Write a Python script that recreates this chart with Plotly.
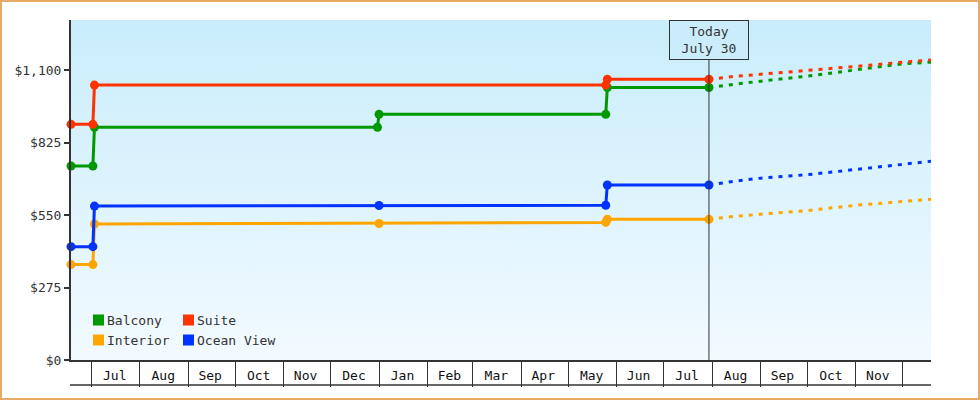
import base64
import plotly.graph_objects as go

# observed fares (solid part), one list pair per cabin type
balcony_dates = ["2023-06-18", "2023-07-02", "2023-07-03", "2023-12-31", "2024-01-01",
                 "2024-05-25", "2024-05-26", "2024-07-30"]
balcony_prices = [736, 736, 883, 883, 932, 932, 1034, 1034]

suite_dates = ["2023-06-18", "2023-07-02", "2023-07-03", "2024-05-25", "2024-05-26", "2024-07-30"]
suite_prices = [894, 894, 1043, 1043, 1065, 1065]

ocean_dates = ["2023-06-18", "2023-07-02", "2023-07-03", "2024-01-01", "2024-05-25",
               "2024-05-26", "2024-07-30"]
ocean_prices = [430, 430, 584, 586, 587, 664, 664]

interior_dates = ["2023-06-18", "2023-07-02", "2023-07-03", "2024-01-01", "2024-05-25",
                  "2024-05-26", "2024-07-30"]
interior_prices = [362, 362, 516, 518, 522, 534, 534]

# projected fares (dotted part)
forecast_dates = ["2024-07-30", "2024-08-15", "2024-09-01", "2024-10-01", "2024-11-01",
                  "2024-12-01", "2024-12-19"]
balcony_forecast = [1034, 1046, 1058, 1077, 1102, 1124, 1130]
suite_forecast = [1065, 1076, 1084, 1098, 1114, 1130, 1138]
ocean_forecast = [664, 678, 690, 703, 723, 743, 754]
interior_forecast = [534, 545, 553, 567, 587, 601, 610]

today = "2024-07-30"
today_label = "Today<br>July 30"

month_ticks = ["2023-07-16", "2023-08-16", "2023-09-15", "2023-10-16", "2023-11-15",
               "2023-12-16", "2024-01-16", "2024-02-15", "2024-03-16", "2024-04-15",
               "2024-05-16", "2024-06-15", "2024-07-16", "2024-08-16", "2024-09-15",
               "2024-10-16", "2024-11-15"]
month_labels = ["Jul", "Aug", "Sep", "Oct", "Nov", "Dec", "Jan", "Feb", "Mar", "Apr",
                "May", "Jun", "Jul", "Aug", "Sep", "Oct", "Nov"]

price_ticks = [0, 275, 550, 825, 1100]
price_labels = ["$0", "$275", "$550", "$825", "$1,100"]

FONT = "DejaVu Sans Mono"
INK = "#333333"

series = [
    ("Interior", "#ffa500", interior_dates, interior_prices, interior_forecast),
    ("Ocean View", "#0033ff", ocean_dates, ocean_prices, ocean_forecast),
    ("Balcony", "#009900", balcony_dates, balcony_prices, balcony_forecast),
    ("Suite", "#ff3300", suite_dates, suite_prices, suite_forecast),
]

fig = go.Figure()
for name, color, dates, prices, forecast in series:
    fig.add_trace(go.Scatter(x=forecast_dates, y=forecast, mode="lines", name=name,
                             line=dict(color=color, width=3, dash="4px,6px")))
    fig.add_trace(go.Scatter(x=dates, y=prices, mode="lines+markers", name=name,
                             line=dict(color=color, width=3), cliponaxis=False,
                             marker=dict(color=color, size=9)))

# sky gradient behind the plot area
svg = ('<svg xmlns="http://www.w3.org/2000/svg" width="100" height="100" '
       'preserveAspectRatio="none"><defs><linearGradient id="g" x1="0" y1="0" x2="0" y2="1">'
       '<stop offset="0" stop-color="#c9edfb"/><stop offset="1" stop-color="#f2faff"/>'
       '</linearGradient></defs><rect width="100" height="100" fill="url(#g)"/></svg>')
bg = "data:image/svg+xml;base64," + base64.b64encode(svg.encode()).decode()

W, H = 860, 340  # plot area in px


def px(x):
    return (x - 71) / W


def py(y):
    return (360 - y) / H


shapes = [
    # today marker line
    dict(type="line", xref="x", yref="paper", x0=today, x1=today, y0=0, y1=1,
         line=dict(color=INK, width=1)),
    # bottom rule under month cells
    dict(type="line", xref="paper", yref="paper", x0=px(70), x1=1, y0=py(385), y1=py(385),
         line=dict(color=INK, width=1.5)),
    # outer frame
    dict(type="rect", xref="paper", yref="paper", x0=px(1), x1=px(979), y0=py(399), y1=py(1),
         line=dict(color="#e8aa66", width=2)),
]

annotations = [
    dict(x=today, y=1, xref="x", yref="paper", yanchor="top", xanchor="center",
         text=today_label, showarrow=False, bgcolor="#cbedfb", bordercolor=INK,
         borderwidth=1, borderpad=3, width=72, height=32,
         font=dict(family=FONT, size=13, color=INK)),
]

# legend drawn as swatches + labels, two columns
legend_items = [("Balcony", "#009900", 93, 320), ("Suite", "#ff3300", 183, 320),
                ("Interior", "#ffa500", 93, 340), ("Ocean View", "#0033ff", 183, 340)]
for label, color, lx, ly in legend_items:
    shapes.append(dict(type="rect", xref="paper", yref="paper",
                       x0=px(lx), x1=px(lx + 11), y0=py(ly + 5.5), y1=py(ly - 5.5),
                       fillcolor=color, line=dict(width=0)))
    annotations.append(dict(x=px(lx + 12), y=py(ly), xref="paper", yref="paper",
                            xanchor="left", yanchor="middle", text=label, showarrow=False,
                            font=dict(family=FONT, size=13, color=INK)))

fig.update_layout(
    width=980, height=400,
    margin=dict(l=71, r=49, t=20, b=40),
    paper_bgcolor="white",
    plot_bgcolor="rgba(0,0,0,0)",
    showlegend=False,
    font=dict(family=FONT, size=13, color=INK),
    shapes=shapes,
    annotations=annotations,
    images=[dict(source=bg, xref="paper", yref="paper", x=0, y=1, sizex=1, sizey=1,
                 sizing="stretch", layer="below")],
    xaxis=dict(
        type="date", range=["2023-06-18", "2024-12-19"],
        tickvals=month_ticks, ticktext=month_labels, ticks="",
        showgrid=False, zeroline=False, showline=True, linecolor=INK, linewidth=1.5,
        ticklabelstandoff=3,
        minor=dict(ticks="outside", ticklen=25, tickwidth=1, tickcolor=INK,
                   dtick="M1", tick0="2023-07-01", showgrid=False),
        tickfont=dict(family=FONT, size=13, color="#111"),
    ),
    yaxis=dict(
        range=[0, 1290], tickvals=price_ticks, ticktext=price_labels,
        ticks="outside", ticklen=5, tickwidth=2, tickcolor=INK,
        showgrid=False, zeroline=False, showline=True, linecolor=INK, linewidth=2,
        tickfont=dict(family=FONT, size=13, color=INK),
    ),
)

fig.write_html("out.html", config={"displayModeBar": False},
               post_script="document.body.style.margin = '0';")
